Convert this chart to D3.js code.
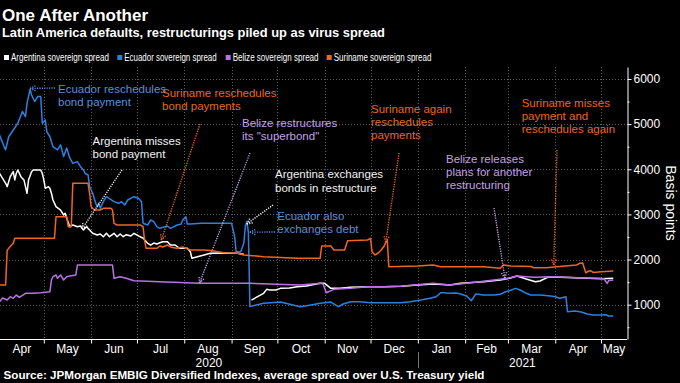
<!DOCTYPE html>
<html><head><meta charset="utf-8">
<script src="https://cdn.jsdelivr.net/npm/d3@7"></script>
<style>body{margin:0;background:#000;}svg{display:block;}</style>
</head><body>
<svg id="c" width="680" height="383"></svg>
<script>
// ---------------- DATA ----------------
const seriesNames = ["Argentina sovereign spread","Ecuador sovereign spread","Belize sovereign spread","Suriname sovereign spread"];

const argentina = [["2020-04-02",3911],["2020-04-06",3689],["2020-04-07",3614],["2020-04-09",3836],["2020-04-11",3947],["2020-04-12",3763],["2020-04-13",3911],["2020-04-14",3984],["2020-04-16",3836],["2020-04-18",3763],["2020-04-19",3614],["2020-04-20",3468],["2020-04-21",3763],["2020-04-23",3947],["2020-04-24",3984],["2020-04-29",3984],["2020-04-30",3911],["2020-05-01",3763],["2020-05-02",3578],["2020-05-04",3614],["2020-05-05",3578],["2020-05-06",3468],["2020-05-07",3319],["2020-05-09",3171],["2020-05-12",3097],["2020-05-14",2987],["2020-05-15",3024],["2020-05-16",2914],["2020-05-18",2728],["2020-05-20",2765],["2020-05-23",2728],["2020-05-25",2743],["2020-05-26",2692],["2020-05-27",2655],["2020-05-28",2692],["2020-05-29",2728],["2020-05-31",2655],["2020-06-02",2581],["2020-06-05",2544],["2020-06-07",2566],["2020-06-09",2506],["2020-06-11",2581],["2020-06-13",2506],["2020-06-16",2581],["2020-06-18",2506],["2020-06-20",2566],["2020-06-22",2506],["2020-06-24",2550],["2020-06-27",2522],["2020-06-29",2581],["2020-07-01",2544],["2020-07-03",2506],["2020-07-05",2477],["2020-07-08",2360],["2020-07-10",2322],["2020-07-12",2366],["2020-07-14",2344],["2020-07-16",2373],["2020-07-18",2396],["2020-07-21",2396],["2020-07-23",2322],["2020-07-26",2322],["2020-07-29",2249],["2020-08-03",2249],["2020-08-05",2174],["2020-08-06",2027],["2020-08-09",2056],["2020-08-14",2101],["2020-08-18",2138],["2020-08-25",2145],["2020-08-31",2138],["2020-09-05",2138],["2020-09-09",2116],["2020-09-12",null],["2020-09-14",1103],["2020-09-18",1177],["2020-09-22",1252],["2020-09-24",1340],["2020-09-26",1325],["2020-09-30",1325],["2020-10-03",1362],["2020-10-09",1369],["2020-10-14",1399],["2020-10-20",1414],["2020-10-29",1473],["2020-11-01",1473],["2020-11-05",1362],["2020-11-11",1362],["2020-11-18",1385],["2020-11-29",1399],["2020-12-10",1399],["2020-12-21",1407],["2021-01-01",1436],["2021-01-11",1458],["2021-01-22",1436],["2021-01-29",1473],["2021-02-13",1510],["2021-02-24",1547],["2021-03-02",1584],["2021-03-07",1635],["2021-03-13",1569],["2021-03-19",1510],["2021-03-22",1525],["2021-03-27",1606],["2021-04-04",1606],["2021-04-18",1591],["2021-05-01",1575],["2021-05-09",1584]];

const ecuador = [["2020-04-02",4760],["2020-04-05",4500],["2020-04-06",4430],["2020-04-08",4720],["2020-04-11",4870],["2020-04-14",5020],["2020-04-17",5280],["2020-04-19",5165],["2020-04-20",5460],["2020-04-22",5770],["2020-04-23",5645],["2020-04-25",5500],["2020-04-27",5610],["2020-04-29",5610],["2020-04-30",5020],["2020-05-02",5090],["2020-05-03",4830],["2020-05-05",4720],["2020-05-07",4500],["2020-05-10",4430],["2020-05-12",4540],["2020-05-14",4280],["2020-05-16",4470],["2020-05-18",4250],["2020-05-20",4130],["2020-05-23",4170],["2020-05-25",4057],["2020-05-27",3985],["2020-05-28",3911],["2020-05-30",3873],["2020-05-31",3614],["2020-06-02",3468],["2020-06-04",3246],["2020-06-05",3171],["2020-06-06",3246],["2020-06-07",3135],["2020-06-09",3282],["2020-06-11",3392],["2020-06-16",3282],["2020-06-19",3246],["2020-06-21",3282],["2020-06-23",3208],["2020-06-25",3319],["2020-06-29",3392],["2020-07-02",3357],["2020-07-04",3282],["2020-07-05",2803],["2020-07-08",2765],["2020-07-10",2876],["2020-07-12",2838],["2020-07-14",2728],["2020-07-16",2692],["2020-07-21",2743],["2020-07-23",2692],["2020-07-27",2759],["2020-07-30",2787],["2020-07-31",2876],["2020-08-02",2949],["2020-08-03",2787],["2020-08-05",2787],["2020-08-12",2803],["2020-08-21",2803],["2020-09-01",2803],["2020-09-03",2506],["2020-09-04",2174],["2020-09-07",2174],["2020-09-09",2360],["2020-09-10",2730],["2020-09-11",2850],["2020-09-12",2600],["2020-09-13",960],["2020-09-22",1030],["2020-10-03",1059],["2020-10-16",955],["2020-10-23",993],["2020-10-29",1030],["2020-11-05",1059],["2020-11-10",955],["2020-11-13",1015],["2020-11-18",1066],["2020-11-24",1066],["2020-12-01",1044],["2020-12-07",1044],["2020-12-14",1044],["2020-12-21",1044],["2020-12-27",1066],["2021-01-03",1103],["2021-01-09",1141],["2021-01-13",1177],["2021-01-16",1265],["2021-01-18",1265],["2021-01-22",1252],["2021-01-26",1260],["2021-01-29",1236],["2021-02-02",1192],["2021-02-05",1088],["2021-02-08",1236],["2021-02-13",1214],["2021-02-20",1214],["2021-02-24",1230],["2021-02-27",1281],["2021-03-02",1310],["2021-03-06",1362],["2021-03-09",1325],["2021-03-13",1252],["2021-03-16",1214],["2021-03-22",1214],["2021-03-29",1192],["2021-04-01",1177],["2021-04-04",1141],["2021-04-08",1177],["2021-04-09",845],["2021-04-14",860],["2021-04-18",838],["2021-04-22",793],["2021-04-26",771],["2021-05-01",771],["2021-05-04",778],["2021-05-06",749],["2021-05-09",749]];

const belize = [["2020-04-02",1066],["2020-04-04",1148],["2020-04-07",1103],["2020-04-09",1177],["2020-04-11",1141],["2020-04-13",1214],["2020-04-15",1163],["2020-04-19",1252],["2020-04-24",1252],["2020-04-29",1265],["2020-05-05",1288],["2020-05-06",1547],["2020-05-07",1620],["2020-05-09",1658],["2020-05-10",1584],["2020-05-12",1658],["2020-05-14",1547],["2020-05-16",1620],["2020-05-18",1635],["2020-05-22",1658],["2020-05-23",1879],["2020-06-15",1879],["2020-06-16",1584],["2020-06-20",1620],["2020-06-24",1584],["2020-06-29",1531],["2020-07-16",1509],["2020-08-11",1473],["2020-09-13",1473],["2020-10-16",1436],["2020-10-29",1473],["2020-10-31",1458],["2020-11-02",1265],["2020-11-07",1340],["2020-11-18",1362],["2020-11-29",1399],["2020-12-10",1399],["2020-12-21",1407],["2021-01-11",1473],["2021-01-22",1436],["2021-02-02",1473],["2021-02-20",1547],["2021-03-01",1584],["2021-03-07",1635],["2021-03-18",1606],["2021-03-29",1620],["2021-04-09",1606],["2021-04-20",1591],["2021-05-01",1584],["2021-05-03",1569],["2021-05-05",1473],["2021-05-06",1535],["2021-05-09",1547]];

const suriname = [["2020-04-02",1436],["2020-04-06",1436],["2020-04-07",2200],["2020-04-08",2249],["2020-04-11",2360],["2020-04-12",2471],["2020-05-08",2471],["2020-05-09",2949],["2020-05-16",2949],["2020-05-17",2728],["2020-05-19",2728],["2020-05-20",3689],["2020-05-30",3689],["2020-05-31",3468],["2020-06-01",3171],["2020-06-03",3097],["2020-06-07",3097],["2020-06-09",3135],["2020-06-14",3135],["2020-06-15",3097],["2020-06-16",2803],["2020-06-18",2765],["2020-07-03",2765],["2020-07-05",2728],["2020-07-06",2432],["2020-07-07",2249],["2020-07-14",2249],["2020-07-16",2300],["2020-07-18",2278],["2020-07-21",2322],["2020-07-23",2278],["2020-07-27",2249],["2020-07-31",2278],["2020-08-05",2211],["2020-08-14",2211],["2020-08-18",2200],["2020-08-27",2152],["2020-09-05",2138],["2020-09-09",2101],["2020-09-22",2063],["2020-10-14",2027],["2020-10-29",2027],["2020-10-30",2300],["2020-11-05",2300],["2020-11-07",2211],["2020-11-14",2211],["2020-11-16",2417],["2020-11-29",2433],["2020-12-01",2471],["2020-12-02",2174],["2020-12-04",2101],["2020-12-06",2145],["2020-12-08",2211],["2020-12-10",2300],["2020-12-11",2380],["2020-12-12",2420],["2020-12-13",1841],["2021-01-01",1857],["2021-01-11",1879],["2021-01-16",1841],["2021-02-13",1841],["2021-02-24",1806],["2021-02-26",1879],["2021-03-03",1857],["2021-03-16",1846],["2021-03-18",1819],["2021-03-26",1819],["2021-04-02",1841],["2021-04-15",1879],["2021-04-17",1917],["2021-04-19",1923],["2021-04-21",1708],["2021-04-23",1746],["2021-04-24",1753],["2021-04-26",1713],["2021-05-01",1730],["2021-05-09",1746]];

const monthLabels = ["Apr","May","Jun","Jul","Aug","Sep","Oct","Nov","Dec","Jan","Feb","Mar","Apr","May"];
const yearLabels = ["2020","2021"];
const yTicks = [1000,2000,3000,4000,5000,6000];
const yMinorTicks = [500,1500,2500,3500,4500,5500];

const annotationTexts = [
  ["Ecuador reschedules","bond payment"],
  ["Suriname reschedules","bond payments"],
  ["Belize restructures","its \"superbond\""],
  ["Argentina misses","bond payment"],
  ["Argentina exchanges","bonds in restructure"],
  ["Ecuador also","exchanges debt"],
  ["Suriname again","reschedules","payments"],
  ["Belize releases","plans for another","restructuring"],
  ["Suriname misses","payment and","reschedules again"]
];
// arrow targets (date, value)
const annotationTargets = [
  ["2020-04-22",5790],["2020-07-17",2430],["2020-08-11",1480],["2020-05-26",2677],
  ["2020-09-11",2790],["2020-09-13",2606],["2020-12-11",2390],["2021-02-27",1591],["2021-03-31",1879]
];

// ---------------- LAYOUT / STYLE ----------------
const W = 680, H = 383;
const P = {left:0, right:627, top:67, bottom:339};
const colors = ["#ffffff","#2d80e0","#b872e6","#f2651c"];
const textColors = {arg:"#f2f2f2", ecu:"#5b8edb", bel:"#c6a0ea", sur:"#e8681f"};
const annLayout = [
  {c:"ecu", tx:58, ty:93, from:[55,88]},
  {c:"sur", tx:162, ty:96.7, from:[200,124]},
  {c:"bel", tx:242, ty:126.7, from:[250,153]},
  {c:"arg", tx:92.5, ty:145, from:[122,170]},
  {c:"arg", tx:275, ty:178.3, from:[273,205]},
  {c:"ecu", tx:277.3, ty:220, from:[275,232]},
  {c:"sur", tx:371, ty:112.7, from:[399,153]},
  {c:"bel", tx:446, ty:162.7, from:[494,208]},
  {c:"sur", tx:521.7, ty:106.7, from:[557,150]}
];
const FONT = "'Liberation Sans', Arial, sans-serif";

const parse = d3.timeParse("%Y-%m-%d");
const x = d3.scaleTime().domain([parse("2020-04-01"), parse("2021-05-18")]).range([-2, 627]);
const y = d3.scaleLinear().domain([240, 6265]).range([P.bottom, P.top]);

const svg = d3.select("#c").style("font-family", FONT);
svg.append("rect").attr("width", W).attr("height", H).attr("fill", "#000");

// Title
svg.append("text").attr("x", 2).attr("y", 20.5).attr("fill", "#fff")
  .attr("font-size", 17).attr("font-weight", "bold").text("One After Another");
svg.append("text").attr("x", 2).attr("y", 37.3).attr("fill", "#fff")
  .attr("font-size", 13).attr("font-weight", "bold").attr("textLength", 383).attr("lengthAdjust","spacingAndGlyphs")
  .text("Latin America defaults, restructurings piled up as virus spread");

// Legend (condensed by horizontal scaling)
const legX = [4, 117.3, 225.7, 326.7];
const legW = [98, 92.4, 86, 97.7];
const lg = svg.append("g");
seriesNames.forEach((n, i) => {
  lg.append("rect").attr("x", legX[i]).attr("y", 55).attr("width", 5).attr("height", 5).attr("fill", colors[i]);
  const t = lg.append("text").attr("x", 0).attr("y", 0).attr("fill", "#fff").attr("font-size", 11).text(n);
  const w = t.node().getComputedTextLength();
  t.attr("transform", `translate(${legX[i] + 7},61.3) scale(${legW[i] / w},1)`);
});

// grid
const monthBounds = d3.timeMonth.range(parse("2020-05-01"), parse("2021-05-02"));
const grid = svg.append("g").attr("stroke", "#5e5e5e").attr("stroke-width", 1).attr("stroke-dasharray", "1,2");
grid.selectAll("line.h").data(yTicks).join("line").attr("class","h")
  .attr("x1", P.left).attr("x2", P.right).attr("y1", d => Math.round(y(d)) + 0.5).attr("y2", d => Math.round(y(d)) + 0.5);
grid.selectAll("line.v").data(monthBounds).join("line").attr("class","v")
  .attr("x1", d => Math.round(x(d)) + 0.5).attr("x2", d => Math.round(x(d)) + 0.5).attr("y1", P.top).attr("y2", P.bottom);

// lines
svg.append("defs").append("clipPath").attr("id", "clip")
  .append("rect").attr("x", P.left).attr("y", P.top).attr("width", P.right - P.left).attr("height", P.bottom - P.top);
const line = d3.line().defined(d => d[1] != null).x(d => x(parse(d[0]))).y(d => y(d[1]));
const lg2 = svg.append("g").attr("clip-path", "url(#clip)");
[argentina, ecuador, belize, suriname].forEach((s, i) => {
  lg2.append("path").datum(s).attr("d", line).attr("fill", "none")
    .attr("stroke", colors[i]).attr("stroke-width", 1.5).attr("stroke-linejoin", "round");
});

// right axis
const ra = svg.append("g").attr("transform", `translate(${P.right + 0.5},0)`);
ra.call(d3.axisRight(y).tickValues(yTicks).tickSize(4).tickPadding(2).tickSizeOuter(0).tickFormat(d3.format("d")));
ra.append("g").call(d3.axisRight(y).tickValues(yMinorTicks).tickSize(2).tickSizeOuter(0).tickFormat(""))
  .select(".domain").remove();
ra.selectAll("path,line").attr("stroke", "#fff");
ra.selectAll("text").attr("fill", "#fff").attr("font-size", 12).attr("font-family", FONT);
svg.append("text").attr("transform", `translate(666,203) rotate(90)`).attr("text-anchor", "middle")
  .attr("fill", "#fff").attr("font-size", 14).text("Basis points");

// bottom axis
const ba = svg.append("g").attr("transform", `translate(0,${P.bottom + 0.5})`);
ba.call(d3.axisBottom(x).tickValues(monthBounds).tickSize(4).tickSizeOuter(0).tickFormat(""));
ba.selectAll("path,line").attr("stroke", "#fff");
ba.select(".domain").attr("d", `M${P.left},0H${P.right}`);
const allStarts = [parse("2020-04-01"), ...monthBounds];
monthLabels.forEach((m, i) => {
  const a = Math.max(P.left, x(allStarts[i]));
  const b = i + 1 < allStarts.length ? x(allStarts[i + 1]) : P.right;
  svg.append("text").attr("x", (a + b) / 2).attr("y", 352.7).attr("text-anchor", "middle")
    .attr("fill", "#fff").attr("font-size", 12).text(m);
});
const jan = x(parse("2021-01-01"));
svg.append("line").attr("x1", Math.round(jan) + 0.5).attr("x2", Math.round(jan) + 0.5).attr("y1", 352).attr("y2", 368)
  .attr("stroke", "#777").attr("stroke-width", 1);
[[P.left, jan], [jan, P.right]].forEach((r, i) => {
  svg.append("text").attr("x", (r[0] + r[1]) / 2).attr("y", 366.7).attr("text-anchor", "middle")
    .attr("fill", "#fff").attr("font-size", 12).text(yearLabels[i]);
});

// Source
svg.append("text").attr("x", 3.5).attr("y", 378.5).attr("fill", "#fff").attr("font-size", 10).attr("font-weight", "bold")
  .attr("textLength", 481).attr("lengthAdjust", "spacingAndGlyphs")
  .text("Source: JPMorgan EMBIG Diversified Indexes, average spread over U.S. Treasury yield");

// annotations
const ag = svg.append("g");
annotationTexts.forEach((lines, i) => {
  const L = annLayout[i];
  const col = textColors[L.c];
  const t = ag.append("text").attr("x", L.tx).attr("y", L.ty).attr("fill", col).attr("font-size", 11.5);
  lines.forEach((s, j) => t.append("tspan").attr("x", L.tx).attr("y", L.ty + j * 13.3).text(s));
  const tx = x(parse(annotationTargets[i][0])), ty = y(annotationTargets[i][1]);
  const [fx, fy] = L.from;
  const g = ag.append("g").attr("stroke", col).attr("stroke-width", 1.4).attr("stroke-dasharray", "1.2,1.2").attr("fill", "none");
  g.append("line").attr("x1", fx).attr("y1", fy).attr("x2", tx).attr("y2", ty);
  const ang = Math.atan2(fy - ty, fx - tx);
  const len = 7, spr = 0.45;
  [ang - spr, ang + spr].forEach(a => {
    g.append("line").attr("x1", tx).attr("y1", ty).attr("x2", tx + len * Math.cos(a)).attr("y2", ty + len * Math.sin(a));
  });
});
</script>
</body></html>
